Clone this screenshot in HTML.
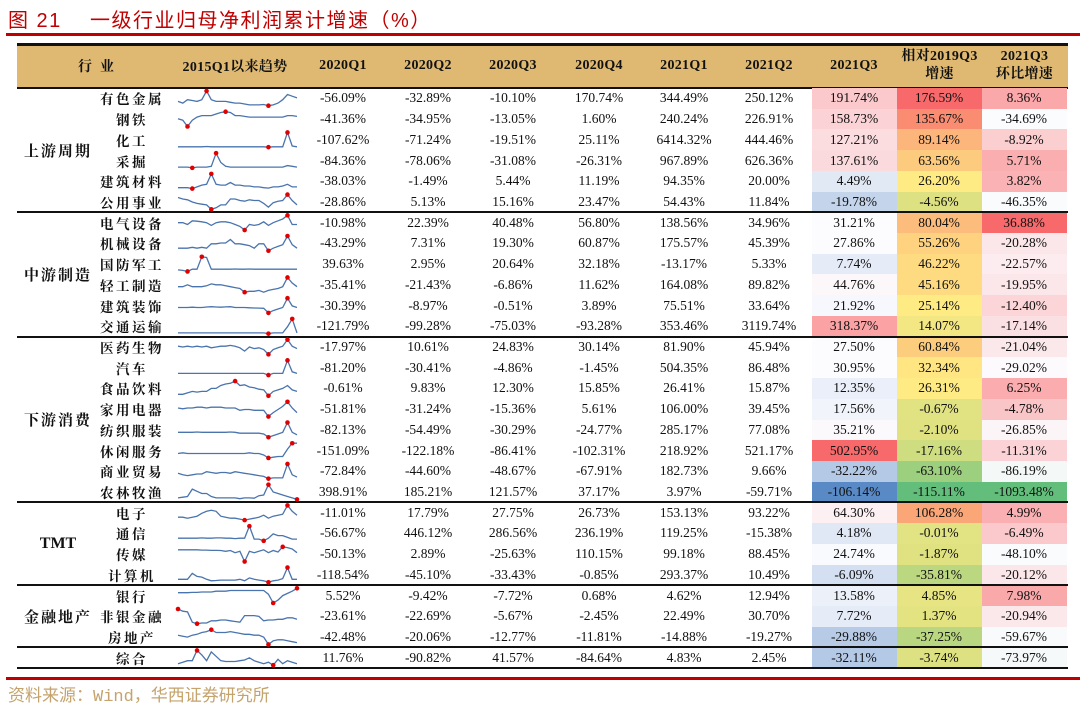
<!DOCTYPE html>
<html><head><meta charset="utf-8">
<style>
body{margin:0;background:#fff;}
#root{position:relative;width:1080px;height:718px;overflow:hidden;background:#fff;font-family:"Liberation Serif","Noto Serif CJK SC",serif;color:#111;}
.abs{position:absolute;}
.cell{position:absolute;display:flex;align-items:center;justify-content:center;font-size:13.5px;white-space:nowrap;}
.hd{font-weight:bold;font-size:14px;letter-spacing:0.3px;}
.nm{font-weight:bold;font-size:13.5px;letter-spacing:2.5px;}
.grp{font-weight:bold;font-size:15px;letter-spacing:2px;}
</style></head><body>
<div id="root">
<div class="abs" style="left:8px;top:4px;font-family:'Liberation Sans','Noto Sans CJK SC',sans-serif;font-size:20px;color:#C00000;letter-spacing:1.5px;white-space:nowrap;">图 21&nbsp;&nbsp;&nbsp;&nbsp;一级行业归母净利润累计增速（%）</div>
<div class="abs" style="left:6px;top:33px;width:1074px;height:3px;background:#C00000;"></div>
<div class="abs" style="left:17px;top:45px;width:1051px;height:42px;background:#DFB971;"></div>
<div class="abs" style="left:17px;top:43px;width:1051px;height:2.5px;background:#111;"></div>
<div class="abs" style="left:17px;top:86.5px;width:1051px;height:2px;background:#111;"></div>
<div class="abs" style="left:6px;top:677px;width:1074px;height:3px;background:#C00000;"></div>
<div class="abs" style="left:8px;top:681px;font-family:'Liberation Mono','Noto Sans CJK SC',sans-serif;font-size:17px;color:#C4A36C;white-space:nowrap;">资料来源：Wind，华西证券研究所</div>
<svg id="spark" class="abs" style="left:0;top:0;" width="1080" height="718"></svg>
</div>
<script>
const groupNames=["上游周期","中游制造","下游消费","TMT","金融地产",""];
const groupSizes=[6,6,8,4,3,1];
const industries=["有色金属","钢铁","化工","采掘","建筑材料","公用事业","电气设备","机械设备","国防军工","轻工制造","建筑装饰","交通运输","医药生物","汽车","食品饮料","家用电器","纺织服装","休闲服务","商业贸易","农林牧渔","电子","通信","传媒","计算机","银行","非银金融","房地产","综合"];
const headers=["2020Q1","2020Q2","2020Q3","2020Q4","2021Q1","2021Q2","2021Q3"];
const q2020Q1=[-56.09,-41.36,-107.62,-84.36,-38.03,-28.86,-10.98,-43.29,39.63,-35.41,-30.39,-121.79,-17.97,-81.20,-0.61,-51.81,-82.13,-151.09,-72.84,398.91,-11.01,-56.67,-50.13,-118.54,5.52,-23.61,-42.48,11.76];
const q2020Q2=[-32.89,-34.95,-71.24,-78.06,-1.49,5.13,22.39,7.31,2.95,-21.43,-8.97,-99.28,10.61,-30.41,9.83,-31.24,-54.49,-122.18,-44.60,185.21,17.79,446.12,2.89,-45.10,-9.42,-22.69,-20.06,-90.82];
const q2020Q3=[-10.10,-13.05,-19.51,-31.08,5.44,15.16,40.48,19.30,20.64,-6.86,-0.51,-75.03,24.83,-4.86,12.30,-15.36,-30.29,-86.41,-48.67,121.57,27.75,286.56,-25.63,-33.43,-7.72,-5.67,-12.77,41.57];
const q2020Q4=[170.74,1.60,25.11,-26.31,11.19,23.47,56.80,60.87,32.18,11.62,3.89,-93.28,30.14,-1.45,15.85,5.61,-24.77,-102.31,-67.91,37.17,26.73,236.19,110.15,-0.85,0.68,-2.45,-11.81,-84.64];
const q2021Q1=[344.49,240.24,6414.32,967.89,94.35,54.43,138.56,175.57,-13.17,164.08,75.51,353.46,81.90,504.35,26.41,106.00,285.17,218.92,182.73,3.97,153.13,119.25,99.18,293.37,4.62,22.49,-14.88,4.83];
const q2021Q2=[250.12,226.91,444.46,626.36,20.00,11.84,34.96,45.39,5.33,89.82,33.64,3119.74,45.94,86.48,15.87,39.45,77.08,521.17,9.66,-59.71,93.22,-15.38,88.45,10.49,12.94,30.70,-19.27,2.45];
const q2021Q3=[191.74,158.73,127.21,137.61,4.49,-19.78,31.21,27.86,7.74,44.76,21.92,318.37,27.50,30.95,12.35,17.56,35.21,502.95,-32.22,-106.14,64.30,4.18,24.74,-6.09,13.58,7.72,-29.88,-32.11];
const vs2019Q3=[176.59,135.67,89.14,63.56,26.20,-4.56,80.04,55.26,46.22,45.16,25.14,14.07,60.84,32.34,26.31,-0.67,-2.10,-17.16,-63.10,-115.11,106.28,-0.01,-1.87,-35.81,4.85,1.37,-37.25,-3.74];
const qoqQ3=[8.36,-34.69,-8.92,5.71,3.82,-46.35,36.88,-20.28,-22.57,-19.95,-12.40,-17.14,-21.04,-29.02,6.25,-4.78,-26.85,-11.31,-86.19,-1093.48,4.99,-6.49,-48.10,-20.12,7.98,-20.94,-59.67,-73.97];
const trends=[
[4,3,5,4.5,4,5,10,5,4,4,4,3.5,3,3,2.5,2,2,2,2.2,1.5,2,3,5,8,7,6],
[5,4,0,4,6,7,7,7,8,9,9.5,9,7,7,6.5,6,6,6,6,6,6,6,6,7,7,6.5],
[1,1,1,1,1,1,1.2,1,1,1,1,1,1,1,1,1,1,1,1,0.8,1,1,1,10,1.5,1],
[1,1,1,0.5,1,1,1,1.5,10,4,1.5,1,1,1,1,1,1,1,1,1,1,1,1,2,1.5,1],
[2,2,2,1.5,2.5,3.5,4,10,4,3.5,3.5,5,3.5,3.5,3,3,2.5,2.5,2,1.8,2.5,2.5,3,4,2.5,2.5],
[8,7,6.5,5,4,3.5,3,0,1,3,3,7,7,6,5.5,6.5,6,6,4,1.5,4.5,5.5,6,10,6,3],
[6,6,5,7,6.8,6.5,6,4.5,6,6.5,6.5,6,5,4,2,5,4.5,5,6.5,4.5,6,7,8,10,5,5],
[3,3,3,3.5,3,3.5,3,5.5,5.5,6,6,8,5.5,5.5,5,4.5,3,5.5,5.5,1.5,3,4,5,10,5,3],
[1.5,1.2,0.5,2,2,10,9.5,2,2,2,2,2,2.1,2,2,2.1,2,2,2,2,2,2,2,2,2,2],
[5,5,6,5,5,5,5.5,6.5,6,6,5.5,5,4.5,4,2,2.5,2.5,3,2,3,3.5,4,5,10,7,5],
[4,4,4,4.2,4,4,4.3,4.5,4.3,4.2,4.4,4.5,4,4,4,3.8,3.7,3.6,3.5,0.5,2,3,4,10,5,4],
[1,1,1,1,1,1,1,1,1,1,1,1,1,1,1,1,1,1,1,0.5,1,1,1,5,10,1],
[6,5.5,6,5.5,6,5.5,6,5,5.5,6,6,6.5,6,5,3,5.5,4.5,5,4,1,4,5,6,10,6,4.5],
[2,2,2,2,2,2,2,2,2,2,2,2,2,2,2,2,2,2,2,1,2,2,2,10,3,2],
[1,1,2,3,2.5,3,3,5,5,7,8,8.5,10,7,7.5,6,5.5,4.5,4,0,3,4,5,7,4,3],
[6,5.5,6,6,6.5,6.5,6,6.5,6.5,6.5,6,6,6,4.5,5,5,4.5,4.5,4.5,0.5,3,5,7,10,6,3],
[4,4,4,4,4.2,4,4,4,4,4,4,4.2,4,3.5,3.5,3.5,3.5,3.5,3,1,2,3,4,10,4,2.5],
[3,3.5,3,3,3,3,3,3,3,3,3,3,3,3,3,3.5,3,3,2,0,0.5,1,1,6,10,10],
[4,3,2.5,3,3.5,3.5,5,4.5,4,4.5,4.5,4,5,4.5,4,3.5,3,2.5,2,0.5,1,1,1,10,3,1.5],
[1,1.5,2,7,5.5,4,4,2,1,1,1,1,1,0.5,1,1,0.8,2.5,3,10,5,4,3,2,1,0],
[4,4,3.5,4,4.5,6,7,7.5,7,4.5,4,3.5,3.5,3,2.5,3,3.5,4,5,3.5,4.5,5,5.5,10,7,5],
[3,3,3,3,3,3.2,3,3,3.2,3.2,3,3,2.8,3,3,10,2.5,2.5,1.5,3,5.5,4.5,4.5,3.5,2.5,2.5],
[8,8,8,8,8,7.8,7.8,7.6,7.6,7.5,7,7.5,6,7,0,7,6,7,8,6,7.5,6.5,10,9.5,8.5,6],
[2,2,2,6,4,3.5,2,1,1.2,1.5,1.5,1.5,1.5,2,1,3,2,1.5,1,0,1,1.5,2.5,10,2,2],
[7,7,7,7.2,7.2,7.5,7.5,7.5,8,8,8,8.5,8.5,8.5,8.5,8.5,8.5,8.5,8.5,6,0,2,5,6.5,8,10],
[10,8.5,8,1,0,0.5,0.5,2,2,2.5,2.5,2,1.5,1,5.5,5.5,5.5,5,2,2.5,2.5,3,3,4,4,3],
[5,4.5,4,5,5.5,6.5,7,8,6.5,6.5,6.5,7,6.5,6,5.5,5.5,5,5,4,0,2,2.5,2.5,2,1.5,1],
[1,2,3,3,10,7,3,9,6,3,2.5,2.5,2.5,3,3.5,5,3,2,1,2,0,4,1,3,2,1]
];

const root=document.getElementById('root');
const svg=document.getElementById('spark');
const NS='http://www.w3.org/2000/svg';
const TOP=88, RH=20.72;
const colCenters=[343,428,513,599,684,769,854,939,1024];
const colW=85;
function mix(a,b,t){t=Math.max(0,Math.min(1,t));const r=[0,1,2].map(i=>Math.round(a[i]+(b[i]-a[i])*t));return 'rgb('+r.join(',')+')';}
const RED=[248,105,107],WHITE=[252,252,255],BLUE=[90,138,198],YEL=[255,235,132],GRN=[99,190,123];
function colQ3(v){return v>=27?mix(WHITE,RED,(v-27)/476):mix(WHITE,BLUE,(27-v)/133);}
function colVs(v){return v>=26.2?mix(YEL,RED,(v-26.2)/150.4):mix(YEL,GRN,(26.2-v)/141.3);}
function colQoq(v){return v>=-30?mix(WHITE,RED,(v+30)/66.9):mix(WHITE,GRN,(-30-v)/1063.5);}
function fmt(v){return v.toFixed(2)+'%';}

function mk(cls,left,top,w,h,text){const d=document.createElement('div');d.className=cls;d.style.left=left+'px';d.style.top=top+'px';d.style.width=w+'px';d.style.height=h+'px';if(text!==undefined)d.textContent=text;root.insertBefore(d,svg);return d;}

let h;
h=mk('cell hd',40,45,120,42,'行业');


h.style.letterSpacing='8px';
h=mk('cell hd',170,45,130,42,'2015Q1以来趋势');


headers.forEach((t,i)=>{
  const e=mk('cell hd',colCenters[i]-colW/2,45,colW,42,t);
  
  
});
h=mk('cell hd',897,45,85,42);
h.innerHTML='相对2019Q3<br>增速';h.style.lineHeight='18px';h.style.textAlign='center';


h=mk('cell hd',982,45,85,42);
h.innerHTML='2021Q3<br>环比增速';h.style.lineHeight='18px';h.style.textAlign='center';



const cols=[q2020Q1,q2020Q2,q2020Q3,q2020Q4,q2021Q1,q2021Q2,q2021Q3,vs2019Q3,qoqQ3];
industries.forEach((name,r)=>{
  const y=TOP+r*RH;
  cols.forEach((arr,c)=>{
    const e=mk('cell',colCenters[c]-colW/2,y,colW,RH,fmt(arr[r]));
    
    
    if(c===6)e.style.background=colQ3(arr[r]);
    if(c===7)e.style.background=colVs(arr[r]);
    if(c===8)e.style.background=colQoq(arr[r]);
  });
  const n=mk('cell nm',90,y,84,RH,name);
  
  
  const d=trends[r];
  let mn=Math.min(...d),mx=Math.max(...d);
  const x0=178,x1=297,yt=y+3,yb=y+RH-3;
  const px=i=>x0+(x1-x0)*i/(d.length-1);
  const py=v=>yb-(yb-yt)*(v-mn)/(mx-mn||1);
  const pl=document.createElementNS(NS,'polyline');
  pl.setAttribute('points',d.map((v,i)=>px(i).toFixed(1)+','+py(v).toFixed(1)).join(' '));
  pl.setAttribute('fill','none');pl.setAttribute('stroke','#4A74AE');pl.setAttribute('stroke-width','1.3');
  
  
  svg.appendChild(pl);
  [d.indexOf(mx),d.indexOf(mn)].forEach(i=>{
    const c=document.createElementNS(NS,'circle');
    c.setAttribute('cx',px(i));c.setAttribute('cy',py(d[i]));c.setAttribute('r','2.3');c.setAttribute('fill','#E00000');
    
    
    svg.appendChild(c);
  });
});
let start=0;
groupNames.forEach((g,i)=>{
  const y=TOP+start*RH, hh=groupSizes[i]*RH;
  if(g){
    const e=mk('cell grp',20,y,76,hh,g);
    if(g==='TMT'){e.style.letterSpacing='0';e.style.fontSize='16px';}
    
    
  }
  start+=groupSizes[i];
  const l=mk('abs',17,TOP+start*RH-1,1051,2);
  l.style.background='#111';
  
  
});
</script>
</body></html>
